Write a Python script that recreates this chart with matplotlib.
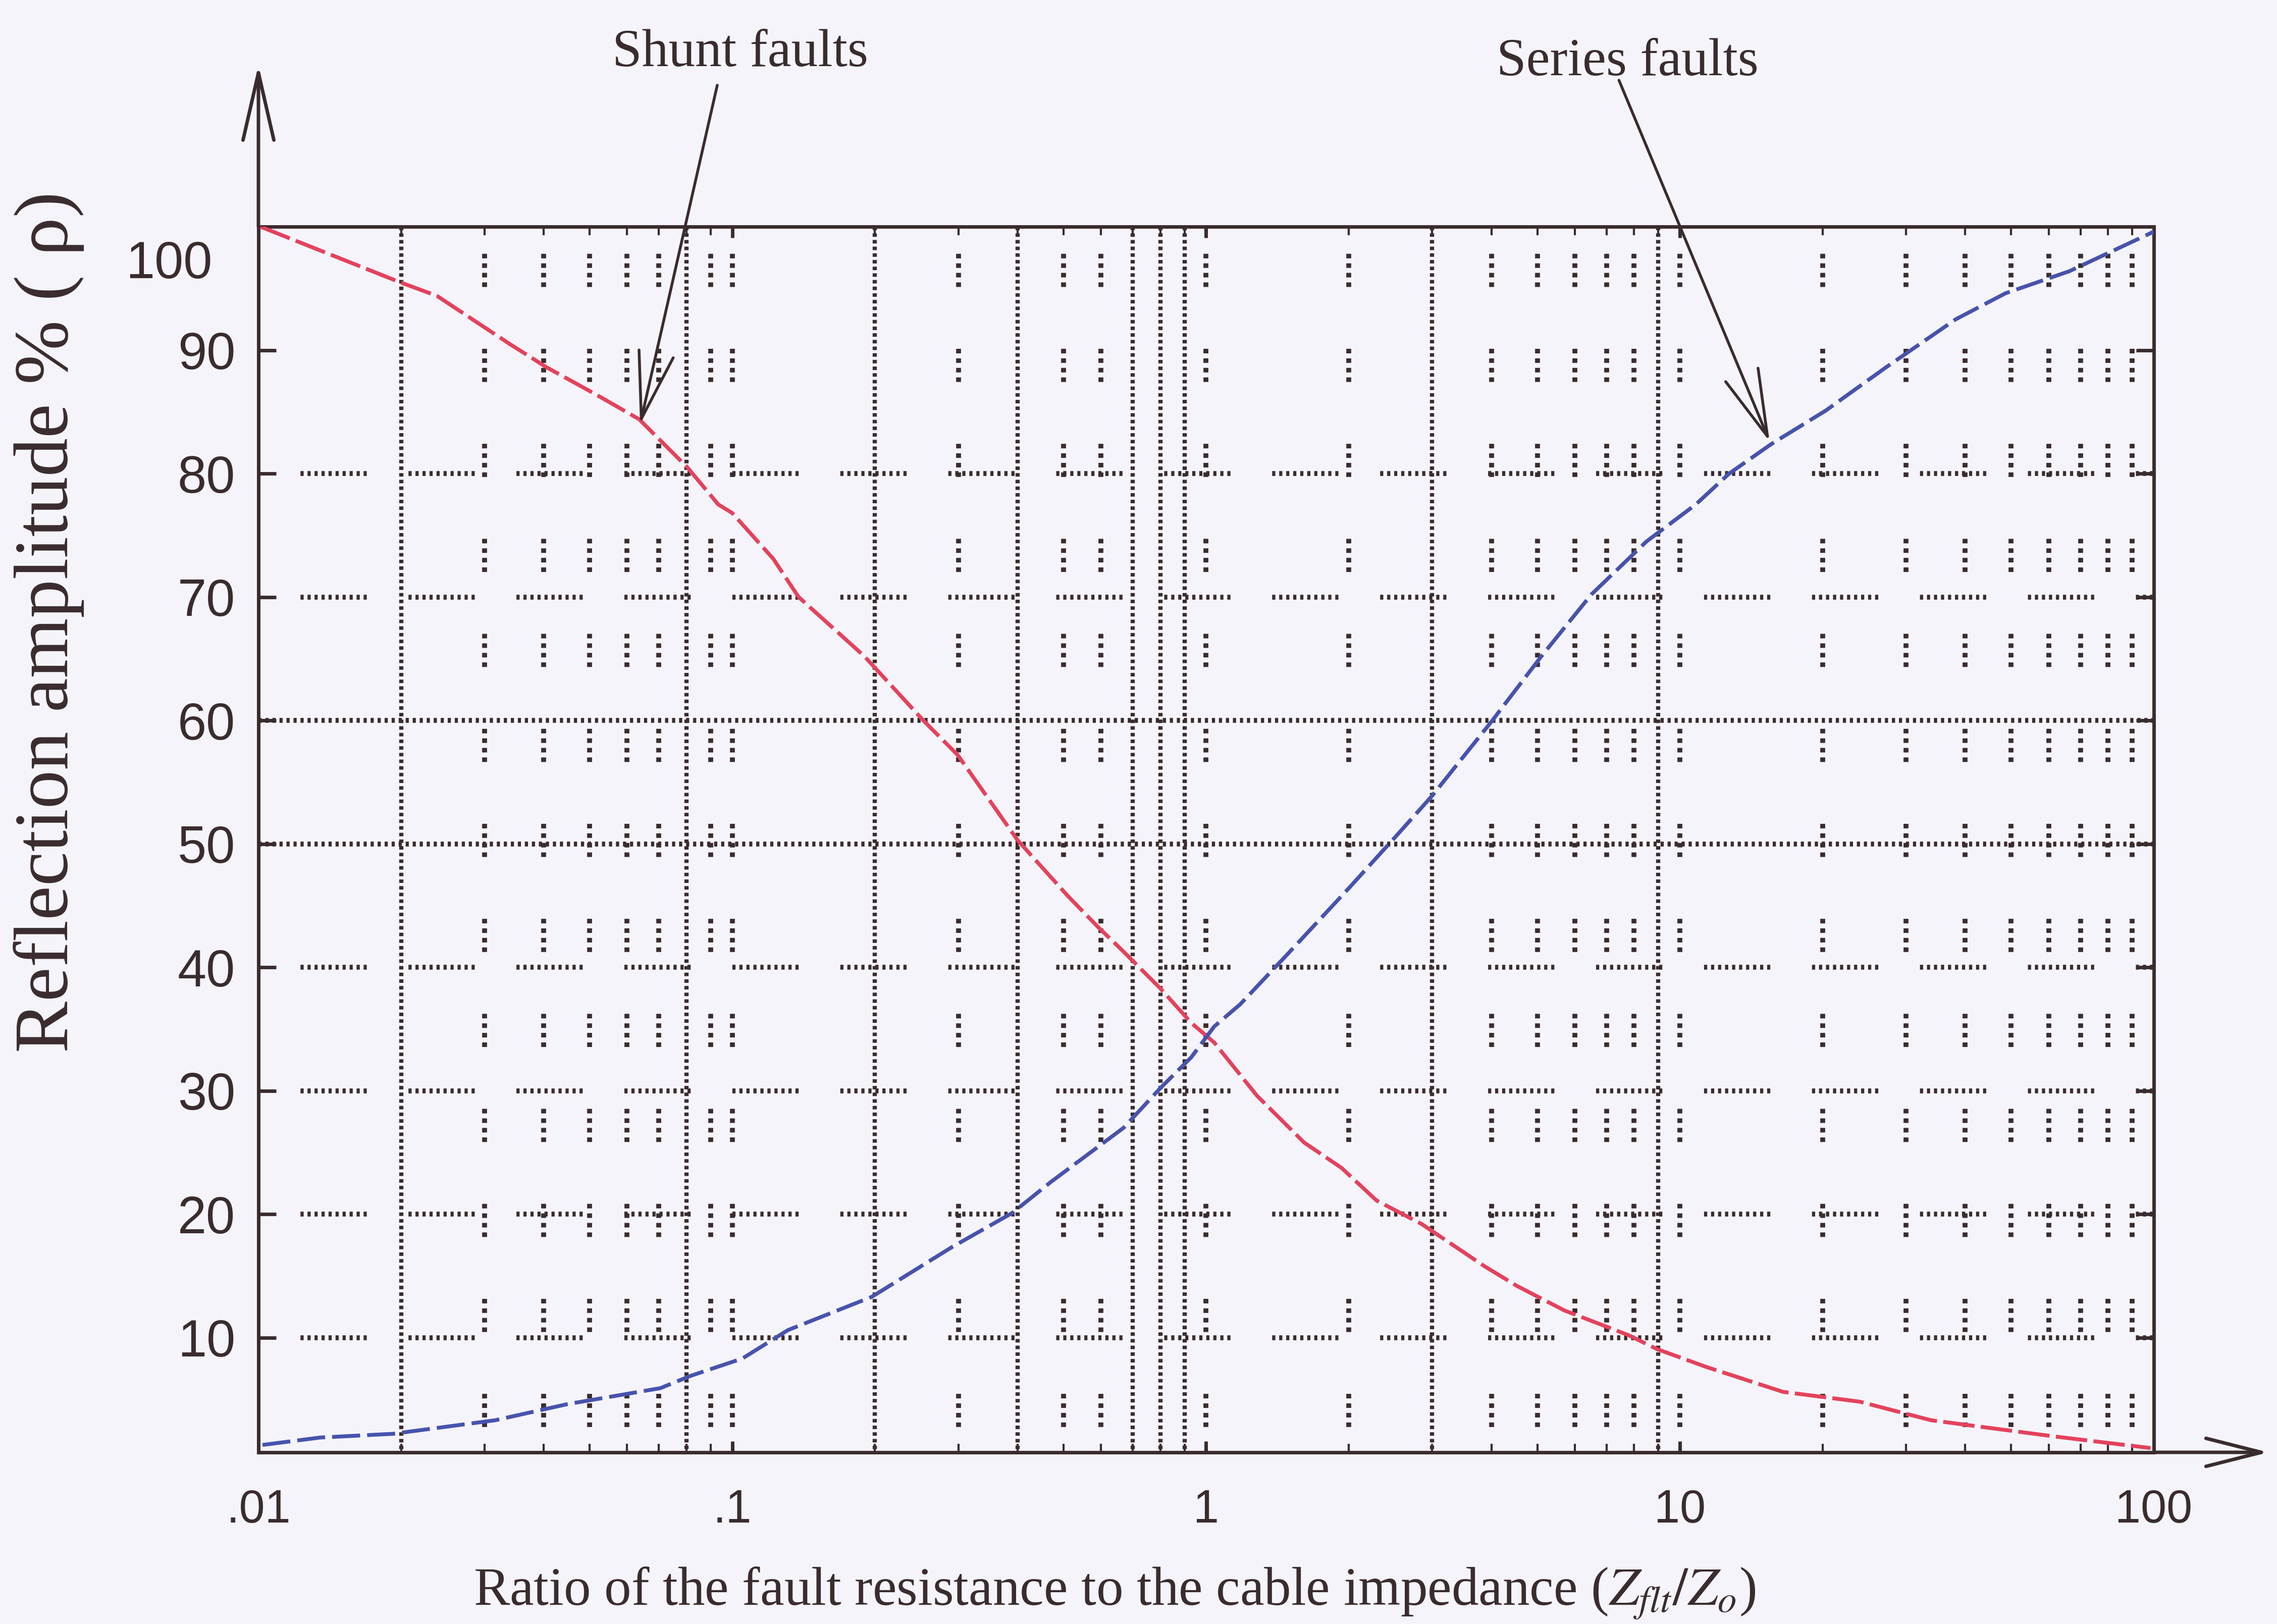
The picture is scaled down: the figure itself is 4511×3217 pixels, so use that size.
import numpy as np
import matplotlib
matplotlib.use("Agg")
import matplotlib.pyplot as plt
from matplotlib.ticker import LogLocator, NullFormatter

plt.rcParams['lines.scale_dashes'] = False
plt.rcParams['mathtext.fontset'] = 'stix'

# shunt fault curve: reflection % vs Zflt/Zo
ratio_shunt = [0.0101, 0.0199, 0.0238, 0.0339, 0.0406, 0.0516, 0.0636, 0.0804,
               0.0934, 0.1, 0.122, 0.138, 0.19, 0.253, 0.299, 0.40, 0.51, 0.59,
               0.66, 0.80, 0.93, 1.04, 1.28, 1.61, 1.93, 2.29, 2.85, 3.86, 4.52,
               5.7, 7.78, 8.95, 11.4, 16.5, 24, 28.5, 33.9, 44.6, 61.3, 98.4]
rho_shunt = [100, 95.5, 94.4, 90.5, 88.6, 86.4, 84.4, 80.5,
             77.5, 76.8, 73.1, 70.0, 65.2, 60.0, 57.2, 50.3, 45.8, 43.3,
             41.5, 38.3, 35.5, 33.9, 29.6, 25.8, 23.75, 21.1, 19.2, 15.8, 14.2,
             12.2, 10.2, 9.06, 7.6, 5.6, 4.8, 4.05, 3.3, 2.7, 2.0, 1.05]

# series fault curve
ratio_series = [0.0102, 0.0135, 0.0192, 0.0316, 0.0448, 0.0705, 0.0817, 0.105,
                0.131, 0.197, 0.29, 0.39, 0.47, 0.67, 0.80, 0.93, 1.04, 1.18,
                1.48, 2.0, 2.5, 3.0, 4.0, 5.1, 6.5, 8.5, 10.8, 12.7, 15.6, 20.3,
                27.2, 38.2, 48.6, 66.4, 100]
rho_series = [1.3, 1.9, 2.2, 3.3, 4.6, 5.9, 6.9, 8.3,
              10.6, 13.3, 17.3, 20.1, 22.6, 27.0, 30.2, 32.7, 35.2, 37.0,
              41.0, 46.4, 50.5, 53.9, 59.9, 65.2, 70.2, 74.5, 77.5, 80.0, 82.4, 85.1,
              88.6, 92.5, 94.6, 96.4, 99.6]

x_major = [0.01, 0.1, 1, 10, 100]
x_labels = ['.01', '.1', '1', '10', '100']
y_ticks = [10, 20, 30, 40, 50, 60, 70, 80, 90]
y_labels = ['10', '20', '30', '40', '50', '60', '70', '80', '90']

# grid lines
grid_x = [k * 10.0 ** d for d in range(-2, 2) for k in range(1, 10)][1:]
grid_x_solid = [0.02, 0.08, 0.2, 0.4, 0.7, 0.8, 0.9, 3, 9]
grid_y_solid = [50, 60]
grid_y_broken = [10, 20, 30, 40, 70, 80]

ink = '#3a2c2e'
paper = '#f5f4fb'
red = '#e4425c'
blue = '#4753ad'
sans = 'Liberation Sans'
serif = 'Liberation Serif'

fig = plt.figure(figsize=(45.11, 32.17), dpi=100, facecolor=paper)
ax = fig.add_axes([0.1135, 0.1057, 0.8324, 0.7547])
ax.set_facecolor(paper)
ax.set_xscale('log')
ax.set_xlim(0.01, 100)
ax.set_ylim(0.7, 100)

# dotted grid, drawn top-down so the dash groups line up
seg_v = (96.8, [6.5, 7.1, 6.5, 7.1, 6.5, 7.1, 6.5, 88.2])
for gx in grid_x:
    if np.any(np.isclose(gx, grid_x_solid)):
        ax.plot([gx, gx], [100, 0.7], color=ink, lw=6, ls=(0, (5, 4.5)), zorder=1)
    else:
        ax.plot([gx, gx], [100, 0.7], color=ink, lw=7, ls=seg_v, zorder=1)

seg_h = (94, [4.5, 5.5] * 9 + [4.5, 59.5])
for gy in grid_y_solid:
    ax.plot([0.01, 100], [gy, gy], color=ink, lw=7, ls=(0, (4.5, 5.5)), zorder=1)
for gy in grid_y_broken:
    ax.plot([0.01, 100], [gy, gy], color=ink, lw=7, ls=seg_h, zorder=1)

ax.plot(ratio_shunt, rho_shunt, color=red, lw=5.5, ls=(0, (45, 9)), zorder=3)
ax.plot(ratio_series, rho_series, color=blue, lw=5.5, ls=(0, (40, 10)), zorder=3)

for s in ax.spines.values():
    s.set_color(ink)
    s.set_linewidth(5)

ax.set_xticks(x_major, x_labels)
ax.xaxis.set_minor_locator(LogLocator(subs=range(2, 10)))
ax.xaxis.set_minor_formatter(NullFormatter())
ax.tick_params(axis='x', which='both', direction='in', top=True, bottom=True, colors=ink)
ax.tick_params(axis='x', which='minor', length=12, width=3)
ax.tick_params(axis='x', which='major', length=16, width=5, pad=52, labelsize=66)
ax.set_yticks(y_ticks, y_labels)
ax.tick_params(axis='y', direction='in', left=True, right=True, length=25, width=5,
               pad=33, labelsize=74, colors=ink)
for lab in ax.get_xticklabels() + ax.get_yticklabels():
    lab.set_fontfamily(sans)

ax.text(-0.0245, 96.9, '100', transform=ax.get_yaxis_transform(), ha='right',
        va='center', fontsize=74, family=sans, color=ink)

# axis arrows
ax.annotate('', xy=(0, 1.132), xytext=(0, 1.0), xycoords='axes fraction',
            arrowprops=dict(arrowstyle='->,head_length=96,head_width=22', mutation_scale=1,
                            lw=5, color=ink, shrinkA=0, shrinkB=0),
            annotation_clip=False)
ax.annotate('', xy=(1.0605, 0), xytext=(1.0, 0), xycoords='axes fraction',
            arrowprops=dict(arrowstyle='->,head_length=79,head_width=20', mutation_scale=1,
                            lw=5, color=ink, shrinkA=0, shrinkB=0),
            annotation_clip=False)

# curve callouts
fig.text(0.3252, 0.967, 'Shunt faults', ha='center', va='center', fontsize=76,
         family=serif, color=ink)
fig.text(0.7147, 0.9615, 'Series faults', ha='center', va='center', fontsize=76,
         family=serif, color=ink)
ax.annotate('', xy=(0.0639, 84.0), xycoords='data', xytext=(0.315, 0.9475),
            textcoords='figure fraction',
            arrowprops=dict(arrowstyle='->,head_length=95,head_width=25', mutation_scale=1,
                            lw=4, color=ink, shrinkA=0, shrinkB=0),
            annotation_clip=False)
ax.annotate('', xy=(15.46, 82.6), xycoords='data', xytext=(0.711, 0.9506),
            textcoords='figure fraction',
            arrowprops=dict(arrowstyle='->,head_length=95,head_width=25', mutation_scale=1,
                            lw=4, color=ink, shrinkA=0, shrinkB=0),
            annotation_clip=False)

fig.text(0.4895, 0.019, r'Ratio of the fault resistance to the cable impedance ($Z_{flt}/Z_o$)',
         ha='center', va='center', fontsize=77, family=serif, color=ink)
fig.text(0.0215, 0.617, 'Reflection amplitude % ( \u03c1)', rotation=90, ha='center',
         va='center', fontsize=110, family=serif, color=ink)

fig.savefig('out.png', dpi=100, facecolor=paper)
